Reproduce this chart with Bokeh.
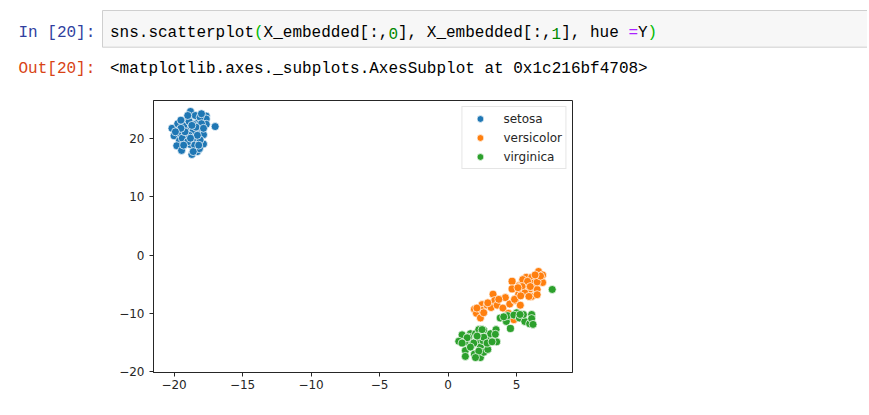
from bokeh.plotting import figure
from bokeh.layouts import column
from bokeh.models import FixedTicker, Range1d, Legend, LegendItem, ColumnDataSource
from bokeh.core.properties import value
from bokeh.embed import file_html
from bokeh.resources import INLINE

# ---------------- data ----------------
species = ["setosa", "versicolor", "virginica"]
colors = ["#1f77b4", "#ff7f0e", "#2ca02c"]

setosa_x = [-20.15, -19.73, -20.0, -19.6, -19.6, -19.8, -19.45, -18.8, -19.1, -19.0,
            -18.6, -18.9, -18.8, -18.7, -18.3, -18.2, -18.1, -18.2, -17.85, -17.85,
            -18.15, -17.65, -17.65, -17.65, -17.0, -18.45, -18.1, -19.3, -19.4, -18.4,
            -19.2, -18.6, -18.9, -18.1, -18.5, -19.0, -19.5, -18.3, -18.0, -18.8,
            -19.9, -18.4, -19.0, -18.0, -18.6, -19.3, -17.85, -19.5, -18.7, -18.2]
setosa_y = [21.8, 22.6, 20.5, 21.0, 19.7, 18.8, 18.0, 24.7, 23.2, 22.0,
            21.4, 20.6, 19.0, 17.3, 17.8, 23.1, 21.8, 20.7, 20.7, 19.1,
            18.3, 23.9, 23.4, 22.5, 22.1, 24.0, 23.7, 22.2, 20.1, 19.8,
            21.2, 22.5, 23.0, 19.8, 18.9, 19.5, 21.8, 20.6, 22.6, 20.1,
            21.2, 22.0, 24.0, 24.3, 17.8, 18.9, 21.8, 23.2, 22.3, 18.9]

versicolor_x = [1.92, 2.07, 2.36, 2.48, 2.48, 2.85, 3.14, 3.28, 3.4, 3.58,
                4.0, 4.18, 4.5, 4.67, 4.67, 4.9, 5.15, 5.27, 5.2, 5.4,
                5.7, 5.7, 5.9, 6.1, 6.1, 6.25, 6.25, 6.5, 6.5, 6.6,
                6.9, 6.9, 5.45, 5.8, 4.8, 4.4, 5.4, 6.0, 6.5, 3.7,
                2.9, 2.6, 5.1, 5.6, 6.75, 4.85, 5.3, 6.35, 5.9, 2.1]
versicolor_y = [-9.3, -10.0, -10.8, -8.5, -9.5, -8.6, -9.0, -6.7, -7.8, -8.6,
                -9.1, -7.3, -8.4, -4.5, -5.8, -7.8, -6.7, -8.6, -5.2, -4.8,
                -3.8, -5.5, -6.2, -7.1, -3.8, -4.8, -5.5, -5.9, -6.8, -2.8,
                -3.4, -4.7, -4.2, -4.5, -11.1, -10.0, -5.4, -5.4, -4.6, -7.6,
                -8.2, -9.9, -5.6, -6.5, -3.6, -7.6, -7.0, -3.4, -7.1, -9.1]

virginica_x = [7.6, 3.8, 4.25, 4.55, 4.35, 5.0, 4.8, 5.2, 5.6, 5.95,
               6.1, 6.1, 1.02, 0.78, 1.26, 1.26, 1.26, 1.63, 1.75, 1.92,
               2.0, 2.17, 2.24, 2.36, 2.36, 2.6, 2.6, 2.9, 2.9, 3.1,
               3.5, 3.55, 3.45, 1.5, 1.87, 2.55, 2.24, 1.63, 2.6, 2.12,
               2.85, 3.21, 1.39, 1.02, 5.5, 4.06, 5.25, 2.48, 6.2, 2.0]
virginica_y = [-5.9, -10.8, -11.4, -12.6, -10.4, -9.9, -10.3, -10.8, -11.4, -11.8,
               -10.2, -10.9, -13.7, -14.8, -14.9, -16.4, -17.4, -13.5, -15.4, -17.0,
               -13.5, -14.7, -12.8, -15.8, -17.6, -12.9, -16.7, -14.1, -16.2, -13.5,
               -12.8, -14.9, -13.6, -14.1, -15.1, -14.7, -16.5, -15.8, -14.1, -13.9,
               -15.1, -14.9, -14.2, -15.1, -10.2, -10.6, -10.2, -12.8, -11.9, -17.6]

x_ticks = [-20, -15, -10, -5, 0, 5]
y_ticks = [-20, -10, 0, 10, 20]

# notebook texts
in_prompt = "In [20]:"
out_prompt = "Out[20]:"
code_segments = [("sns.scatterplot", "#000000"), ("(", "#00bb00"), ("X_embedded[:,", "#000000"),
                 ("0", "#008800"), ("], X_embedded[:,", "#000000"), ("1", "#008800"),
                 ("], hue ", "#000000"), ("=", "#aa22ff"), ("Y", "#000000"), (")", "#00bb00")]
out_text = "<matplotlib.axes._subplots.AxesSubplot at 0x1c216bf4708>"

# ---------------- layout constants (page pixels) ----------------
W = 867
HDR_H = 90                      # height of the notebook header strip
FL, FR, FT, FB = 153, 572, 100, 372   # plot frame edges in page pixels
PLOT_H = 405 - HDR_H

# ---------------- header: prompts, code cell, output repr ----------------
hdr = figure(width=W, height=HDR_H, output_backend="svg", toolbar_location=None,
             x_range=Range1d(0, W), y_range=Range1d(HDR_H, 0),
             x_axis_location=None, y_axis_location=None,
             min_border=0, min_border_left=0, min_border_right=0,
             min_border_top=0, min_border_bottom=0)
hdr.frame_align = False
hdr.grid.visible = False
hdr.outline_line_color = None
hdr.background_fill_color = "white"
hdr.border_fill_color = "white"

# code cell box
hdr.quad(left=[102], right=[W + 5], top=[10], bottom=[46.7],
         fill_color="#f7f7f7", line_color="#cfcfcf", line_width=1)

CW = 9.6
BASE_IN, BASE_OUT = 32.5, 68
tx, ty, tt, tc = [18, 18], [BASE_IN, BASE_OUT], [in_prompt, out_prompt], ["#303f9f", "#d84315"]
i = 0
for seg, col in code_segments:
    tx.append(109.5 + i * CW)
    ty.append(BASE_IN)
    tt.append(seg)
    tc.append(col)
    i += len(seg)
tx.append(109.5)
ty.append(BASE_OUT)
tt.append(out_text)
tc.append("#000000")
src = ColumnDataSource(dict(x=tx, y=ty, text=tt, color=tc))
hdr.text(x="x", y="y", text="text", text_color="color", source=src,
         text_font=value("Liberation Mono"), text_font_size=value("16px"),
         text_baseline="alphabetic", text_align="left")

# ---------------- scatter plot ----------------
p = figure(width=W, height=PLOT_H, output_backend="svg", toolbar_location=None,
           x_range=Range1d(-21.5, 9.08), y_range=Range1d(-20.17, 26.58),
           min_border_left=FL, min_border_right=W - FR,
           min_border_top=FT - HDR_H, min_border_bottom=405 - FB)
p.frame_align = False
p.grid.visible = False
p.background_fill_color = "white"
p.border_fill_color = "white"
p.outline_line_color = "#262626"
p.outline_line_width = 1

for ax, ticks in ((p.xaxis[0], x_ticks), (p.yaxis[0], y_ticks)):
    ax.ticker = FixedTicker(ticks=ticks)
    ax.major_label_overrides = {t: (("\u2212" + str(-t)) if t < 0 else str(t)) for t in ticks}
    ax.axis_line_color = "#262626"
    ax.major_tick_line_color = "#262626"
    ax.minor_tick_line_color = None
    ax.major_tick_in = 0
    ax.major_tick_out = 4
    ax.major_label_text_font = "DejaVu Sans"
    ax.major_label_text_font_size = "12px"
    ax.major_label_text_color = "#262626"
p.xaxis.major_label_standoff = 3
p.yaxis.major_label_standoff = 5

xs = [setosa_x, versicolor_x, virginica_x]
ys = [setosa_y, versicolor_y, virginica_y]
items = []
for name, c, x, y in zip(species, colors, xs, ys):
    r = p.scatter(x, y, size=8, fill_color=c, line_color="white", line_width=0.7)
    items.append(LegendItem(label=name, renderers=[r]))

legend = Legend(items=items, location="top_right", margin=6, padding=3,
                glyph_width=29, glyph_height=17, label_standoff=9, spacing=2,
                label_text_font="DejaVu Sans", label_text_font_size="12px",
                label_text_color="#262626", border_line_color="#cccccc",
                border_line_width=1, background_fill_alpha=0.8, label_height=17)
p.add_layout(legend)

layout = column(hdr, p, spacing=0)
open("out.html", "w").write(file_html(layout, INLINE))
